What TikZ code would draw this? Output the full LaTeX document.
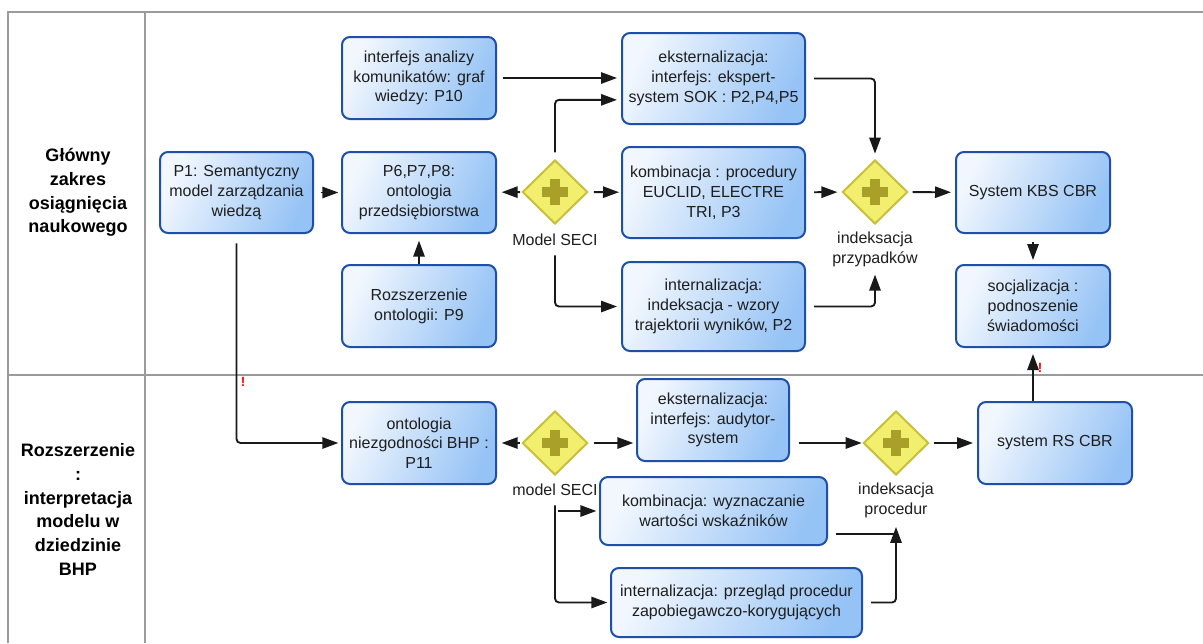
\documentclass[tikz,border=0pt]{standalone}
\usepackage{fontspec}
\setmainfont{Liberation Sans}
\usetikzlibrary{shapes.geometric,arrows.meta,calc}
\definecolor{frameg}{RGB}{155,155,155}
\definecolor{boxb}{RGB}{30,80,170}
\definecolor{boxL}{RGB}{242,247,254}
\definecolor{boxR}{RGB}{150,195,245}
\definecolor{gwfill}{RGB}{242,238,110}
\definecolor{gwdraw}{RGB}{200,192,60}
\definecolor{gwplus}{RGB}{168,160,40}
\definecolor{txt}{RGB}{30,30,30}
\definecolor{lnk}{RGB}{25,25,25}
\begin{document}
\begin{tikzpicture}[x=0.75pt,y=-0.75pt,
  every node/.style={font=\fontsize{12}{14.8}\selectfont, text=txt},
  task/.style={draw=boxb, line width=1.5pt, rounded corners=6pt, left color=boxL, right color=boxR, shading angle=65, align=center, inner sep=2pt},
  sz/.style 2 args={minimum width=#1*0.75pt, minimum height=#2*0.75pt},
  gw/.style={diamond, aspect=1, draw=gwdraw, line width=1.5pt, fill=gwfill, minimum width=49pt, minimum height=48pt, inner sep=0pt},
  lbl/.style={inner sep=1pt, align=center},
  lane/.style={font=\bfseries\fontsize{13.5}{17.8}\selectfont, text=black, align=center},
  frame/.style={draw=frameg, line width=2.2pt},
  conn/.style={draw=lnk, line width=1.4pt, rounded corners=3pt, -{Triangle[length=12pt,width=8.5pt]}},
  link/.style={draw=lnk, line width=1.4pt, rounded corners=3pt},
  excl/.style={text=red, font=\bfseries\fontsize{10}{10}\selectfont, inner sep=0pt}
]
\useasboundingbox (0,0) rectangle (1203,643);
% frame
\draw[frame] (8,643) -- (8,12) -- (1203,12);
\draw[frame] (145,12) -- (145,643);
\draw[frame] (8,375) -- (1203,375);
% lane labels
\node[lane] (lane1) at (78,192.5) {Główny\\zakres\\osiągnięcia\\naukowego};
\node[lane] (lane2) at (78,509.5) {Rozszerzenie\\:\\interpretacja\\modelu w\\dziedzinie\\BHP};
% tasks lane 1
\node[task, sz={154}{82}] (A) at (419,78) {interfejs analizy\\komunikatów: graf\\wiedzy: P10};
\node[task, sz={153}{81}] (P1) at (236.5,192.5) {P1: Semantyczny\\model zarządzania\\wiedzą};
\node[task, sz={154}{81}] (B) at (419,192.5) {P6,P7,P8:\\ontologia\\przedsiębiorstwa};
\node[task, sz={154}{82}] (C) at (419,306) {Rozszerzenie\\ontologii: P9};
\node[task, sz={183}{91}] (E1) at (713.5,78.5) {eksternalizacja:\\interfejs: ekspert-\\system SOK : P2,P4,P5};
\node[task, sz={183}{91}] (K1) at (713.5,192.5) {kombinacja : procedury\\EUCLID, ELECTRE\\TRI, P3};
\node[task, sz={183}{89}] (I1) at (713.5,306.5) {internalizacja:\\indeksacja - wzory\\trajektorii wyników, P2};
\node[task, sz={154}{81}] (KBS) at (1033,192.5) {System KBS CBR};
\node[task, sz={154}{82}] (SOC) at (1033,306) {socjalizacja :\\podnoszenie\\świadomości};
% tasks lane 2
\node[task, sz={154}{82}] (P11) at (419,443) {ontologia\\niezgodności BHP :\\P11};
\node[task, sz={152}{82}] (E2) at (713,420) {eksternalizacja:\\interfejs: audytor-\\system};
\node[task, sz={227}{68}] (K2) at (713.5,511) {kombinacja: wyznaczanie\\wartości wskaźników};
\node[task, sz={251}{69}] (I2) at (736.5,602.5) {internalizacja: przegląd procedur\\zapobiegawczo-korygujących};
\node[task, sz={154}{82}] (RS) at (1055,443) {system RS CBR};
% gateways
\node[gw] (G1) at (555,192) {};
\node[gw] (G2) at (875,192) {};
\node[gw] (G3) at (555,443) {};
\node[gw] (G4) at (896,443) {};
\foreach \g in {G1,G2,G3,G4}{
  \fill[gwplus] ([xshift=-10pt,yshift=-3.4pt]\g.center) rectangle ([xshift=10pt,yshift=3.4pt]\g.center);
  \fill[gwplus] ([xshift=-3.4pt,yshift=-10pt]\g.center) rectangle ([xshift=3.4pt,yshift=10pt]\g.center);
}
\node[lbl] (L1) at (555,240) {Model SECI};
\node[lbl] (L2) at (875,249) {indeksacja\\przypadków};
\node[lbl] (L3) at (555,490) {model SECI};
\node[lbl] (L4) at (896,500) {indeksacja\\procedur};
% connectors lane 1
\draw[conn, shorten <=5pt, shorten >=2pt] (P1) -- (B);
\draw[conn, shorten >=5pt] (C) -- (B);
\draw[conn, shorten <=1pt, shorten >=3.5pt] (G1) -- (B);
\draw[conn, shorten <=4pt, shorten >=1.5pt] (G1) -- (K1);
\coordinate (e1in) at ([yshift=-16pt]E1.west);
\draw[conn, shorten <=5pt, shorten >=3pt] (G1.north) |- (e1in);
\draw[conn, shorten <=4.5pt, shorten >=3pt] (A.east) -- (A.east -| E1.west);
\draw[conn, shorten <=6pt, shorten >=3pt] (L1.south) |- (I1.west);
\draw[conn, shorten <=6pt, shorten >=4pt] (E1.east) -| (G2.north);
\draw[conn, shorten <=6pt, shorten >=3pt] (K1) -- (G2);
\draw[conn, shorten <=6pt, shorten >=5pt] (I1.east) -| (L2.south);
\draw[conn, shorten <=3pt, shorten >=3pt] (G2) -- (KBS);
\draw[conn, shorten <=6pt, shorten >=3pt] (KBS) -- (SOC);
\draw[conn, shorten >=4.5pt] (RS.north -| SOC.south) -- (SOC.south);
% connectors lane 2
\draw[conn, shorten <=7pt, shorten >=2pt] (P1.south) |- (P11.west);
\draw[conn, shorten <=1pt, shorten >=3.5pt] (G3) -- (P11);
\draw[conn, shorten <=4pt, shorten >=2pt] (G3.east) -- (G3.east -| E2.west);
\draw[conn, shorten <=6pt, shorten >=2pt] (L3.south) |- (I2.west);
\draw[conn, shorten <=2pt, shorten >=2pt] (L3.south |- K2.west) -- (K2.west);
\draw[conn, shorten <=6.5pt, shorten >=0.5pt] (E2.east |- G4.west) -- (G4.west);
\draw[conn, shorten <=3pt, shorten >=3pt] (G4) -- (RS);
\coordinate (k2o) at ([yshift=-17pt]K2.east);
\draw[link, shorten <=6pt] (k2o) -- (k2o -| G4.south);
\draw[conn, shorten <=6pt, shorten >=6pt] (I2.east) -| (L4.south);
% marks
\node[excl] (x1) at (243,382) {!};
\node[excl] (x2) at (1040,368) {!};
\end{tikzpicture}
\end{document}
